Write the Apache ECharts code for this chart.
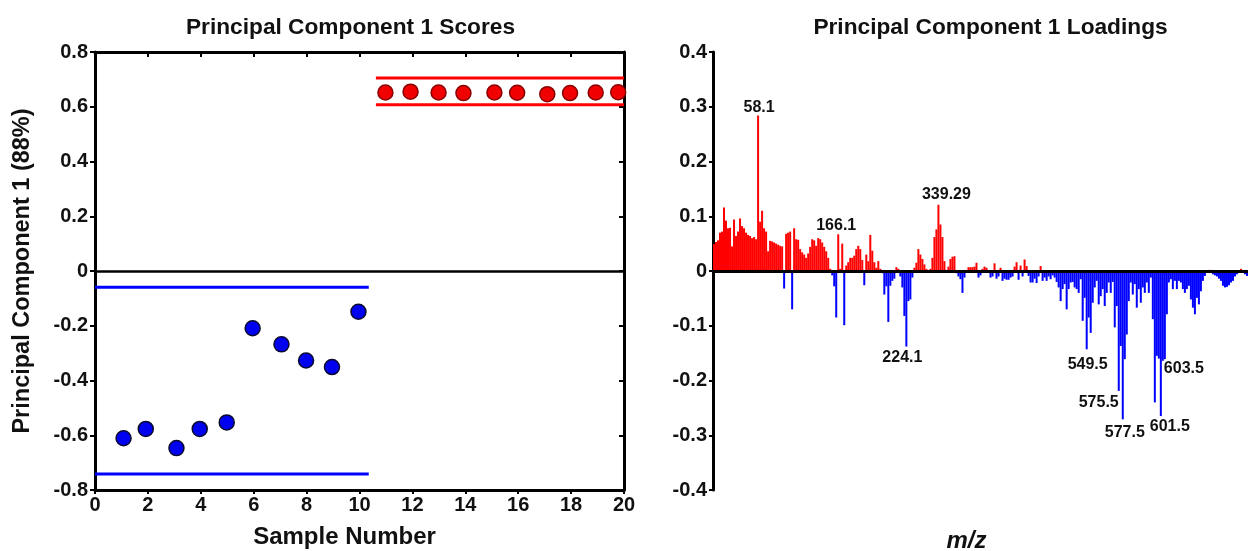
<!DOCTYPE html>
<html>
<head>
<meta charset="utf-8">
<script src="https://cdn.jsdelivr.net/npm/echarts/dist/echarts.min.js"></script>
<style>
  html, body { margin: 0; padding: 0; background: #fff; }
  #chart { width: 1248px; height: 551px; }
</style>
</head>
<body>
<div id="chart"></div>
<script>
// ---- PC1 scores: samples 1-10 (group A, blue) and 11-20 (group B, red)
const groupA_x = [1.08, 1.92, 3.08, 3.96, 4.98, 5.96, 7.05, 7.98, 8.96, 9.96];
const groupA_score = [-0.611, -0.577, -0.647, -0.577, -0.553, -0.209, -0.268, -0.327, -0.351, -0.149];
const groupB_x = [10.98, 11.93, 12.99, 13.93, 15.1, 15.96, 17.1, 17.96, 18.93, 19.78];
const groupB_score = [0.652, 0.655, 0.652, 0.650, 0.652, 0.651, 0.646, 0.650, 0.652, 0.653];

// limit lines for each group: [upper, lower] and their x extent
const groupA_limits = [-0.059, -0.742];
const groupA_span = [0, 10.35];
const groupB_limits = [0.705, 0.607];
const groupB_span = [10.62, 20];

// ---- PC1 loadings, one value per m/z variable, in variable order
const loadings = [
  0.049, 0.053, 0.056, 0.070, 0.072, 0.116, 0.092, 0.078, 0.079, 0.045,
  0.094, 0.064, 0.072, 0.096, 0.082, 0.078, 0.070, 0.066, 0.064, 0.060,
  0.062, 0.058, 0.284, 0.090, 0.110, 0.078, 0.072, 0.036, 0.055, 0.054,
  0.052, 0.050, 0.048, 0.046, 0.045, -0.032, 0.068, 0.070, 0.072, -0.070,
  0.078, 0.058, 0.057, 0.040, 0.034, 0.030, 0.024, 0.032, 0.044, 0.058,
  0.056, 0.046, 0.060, 0.058, 0.052, 0.044, 0.036, 0.024, 0.004, -0.008,
  -0.028, -0.085, 0.067, 0.004, 0.050, -0.099, 0.010, 0.016, 0.024, 0.024,
  0.028, 0.040, 0.046, 0.040, 0.020, -0.026, 0.030, 0.018, 0.066, 0.037,
  0.016, 0.006, 0.018, 0.004, -0.004, -0.043, -0.028, -0.093, -0.027, -0.018,
  -0.014, 0.007, 0.004, -0.010, -0.030, -0.082, -0.138, -0.055, -0.052, -0.012,
  0.006, 0.015, 0.040, 0.030, 0.022, 0.012, 0.004, -0.002, 0.004, 0.024,
  0.062, 0.076, 0.121, 0.085, 0.062, 0.018, 0.002, 0.008, 0.022, 0.026,
  0.027, -0.004, -0.010, -0.015, -0.040, -0.012, 0.002, 0.007, 0.007, 0.007,
  0.008, 0.015, -0.012, -0.008, 0.004, 0.008, 0.006, -0.003, -0.012, -0.010,
  0.014, -0.014, -0.010, 0.006, -0.018, -0.014, -0.016, -0.016, -0.012, -0.010,
  0.008, 0.016, -0.016, 0.010, -0.010, 0.021, 0.009, -0.009, -0.021, -0.021,
  -0.014, -0.022, -0.010, 0.009, -0.018, -0.012, -0.018, -0.010, -0.015, -0.008,
  -0.012, -0.020, -0.030, -0.055, -0.033, -0.024, -0.070, -0.033, -0.021, -0.020,
  -0.030, -0.033, -0.040, -0.015, -0.091, -0.049, -0.143, -0.085, -0.113, -0.058,
  -0.030, -0.018, -0.061, -0.046, -0.033, -0.064, -0.040, -0.021, -0.040, -0.020,
  -0.103, -0.064, -0.219, -0.137, -0.271, -0.161, -0.116, -0.055, -0.021, -0.043,
  -0.024, -0.067, -0.033, -0.058, -0.030, -0.040, -0.021, -0.040, -0.012, -0.088,
  -0.240, -0.155, -0.160, -0.265, -0.164, -0.161, -0.079, -0.021, -0.015, -0.033,
  -0.018, -0.033, -0.018, -0.021, -0.033, -0.040, -0.033, -0.027, -0.052, -0.067,
  -0.079, -0.049, -0.061, -0.037, -0.018, -0.009, -0.003, 0.002, 0.002, -0.006,
  -0.008, -0.010, -0.014, -0.018, -0.027, -0.030, -0.029, -0.026, -0.021, -0.018,
  -0.010, -0.006, -0.003, 0.004, -0.002, -0.006, -0.009
];

// annotated m/z peaks and the variable they belong to
const peakLabels = ['58.1', '166.1', '224.1', '339.29', '549.5', '575.5', '577.5', '601.5', '603.5'];
const peakIndex = [22, 62, 96, 112, 186, 202, 204, 223, 225];

// ---- drawing
const FONT = "'Liberation Sans', Arial, sans-serif";
const RED = '#ff0000';
const BLUE = '#0000ff';
const INK = '#111';

const labelPlacement = {
  '58.1':   { position: 'top', distance: 0, offset: [1, 0] },
  '166.1':  { position: 'top', distance: 1, offset: [-2, 0] },
  '224.1':  { position: 'bottom', distance: 3, offset: [-4, 0] },
  '339.29': { position: 'top', distance: 2, offset: [8, 0] },
  '549.5':  { position: 'bottom', distance: 7, offset: [1, 0] },
  '575.5':  { position: 'left', distance: 2, offset: [2, 12] },
  '577.5':  { position: 'bottom', distance: 5, offset: [2, 0] },
  '601.5':  { position: 'bottom', distance: 3, offset: [9, 0] },
  '603.5':  { position: 'right', distance: 2, offset: [-3, 9] }
};

const tickFont = { fontFamily: FONT, fontWeight: 'bold', fontSize: 20, color: INK };
const boxLine = { show: true, onZero: false, lineStyle: { color: '#000', width: 3 } };
const tickStyle = { width: 2, color: '#000' };

const chart = echarts.init(document.getElementById('chart'), null, { renderer: 'canvas' });

const categories = loadings.map((_, i) => String(i));

chart.setOption({
  animation: false,
  backgroundColor: '#fff',
  title: [
    { text: 'Principal Component 1 Scores', left: 345.5, top: 11, textAlign: 'center',
      textStyle: { fontFamily: FONT, fontWeight: 'bold', fontSize: 22.7, color: INK } },
    { text: 'Principal Component 1 Loadings', left: 985.5, top: 11, textAlign: 'center',
      textStyle: { fontFamily: FONT, fontWeight: 'bold', fontSize: 22.7, color: INK } }
  ],
  grid: [
    { left: 95, top: 52, width: 529, height: 438, outerBoundsMode: 'none', containLabel: false },
    { left: 713, top: 52, width: 535, height: 438, outerBoundsMode: 'none', containLabel: false }
  ],
  xAxis: [
    { gridIndex: 0, type: 'value', min: 0, max: 20, interval: 2, position: 'bottom',
      axisLine: boxLine, axisTick: { show: true, inside: false, length: 4, lineStyle: tickStyle },
      axisLabel: Object.assign({ margin: 5 }, tickFont), splitLine: { show: false },
      name: 'Sample Number', nameLocation: 'middle', nameGap: 35,
      nameTextStyle: { fontFamily: FONT, fontWeight: 'bold', fontSize: 24, color: INK,
        padding: [0, 30, 0, 0] } },
    { gridIndex: 0, type: 'value', min: 0, max: 20, interval: 2, position: 'top',
      axisLine: boxLine, axisTick: { show: true, inside: true, length: 5, lineStyle: tickStyle },
      axisLabel: { show: false }, splitLine: { show: false } },
    { gridIndex: 1, type: 'category', data: categories, position: 'bottom',
      axisLine: { show: false, onZero: false }, axisTick: { show: false }, axisLabel: { show: false },
      splitLine: { show: false },
      name: 'm/z', nameLocation: 'middle', nameGap: 39,
      nameTextStyle: { fontFamily: FONT, fontWeight: 'bold', fontStyle: 'italic', fontSize: 24, color: INK,
        padding: [0, 28, 0, 0] } }
  ],
  yAxis: [
    { gridIndex: 0, type: 'value', min: -0.8, max: 0.8, interval: 0.2, position: 'left',
      axisLine: boxLine, axisTick: { show: true, inside: false, length: 5, lineStyle: tickStyle },
      axisLabel: Object.assign({ margin: 7 }, tickFont), splitLine: { show: false },
      name: 'Principal Component 1 (88%)', nameLocation: 'middle', nameGap: 60, nameRotate: 90,
      nameTextStyle: { fontFamily: FONT, fontWeight: 'bold', fontSize: 23.5, color: INK } },
    { gridIndex: 0, type: 'value', min: -0.8, max: 0.8, interval: 0.2, position: 'right',
      axisLine: boxLine, axisTick: { show: true, inside: true, length: 5, lineStyle: tickStyle },
      axisLabel: { show: false }, splitLine: { show: false } },
    { gridIndex: 1, type: 'value', min: -0.4, max: 0.4, interval: 0.1, position: 'left',
      axisLine: boxLine,
      axisTick: { show: true, inside: false, length: 4, lineStyle: tickStyle },
      axisLabel: Object.assign({ margin: 6 }, tickFont), splitLine: { show: false } }
  ],
  series: [
    // zero line of the scores plot
    { type: 'line', xAxisIndex: 0, yAxisIndex: 0, data: [], silent: true,
      markLine: { symbol: ['none', 'none'], silent: true, label: { show: false },
        lineStyle: { color: '#000', width: 2.5, type: 'solid' }, data: [{ yAxis: 0 }] } },
    // group limit lines
    ...groupA_limits.map(v => ({
      type: 'line', xAxisIndex: 0, yAxisIndex: 0, symbol: 'none', silent: true,
      lineStyle: { color: BLUE, width: 3 }, data: [[groupA_span[0], v], [groupA_span[1], v]]
    })),
    ...groupB_limits.map(v => ({
      type: 'line', xAxisIndex: 0, yAxisIndex: 0, symbol: 'none', silent: true,
      lineStyle: { color: RED, width: 3 }, data: [[groupB_span[0], v], [groupB_span[1], v]]
    })),
    // scores
    { type: 'scatter', xAxisIndex: 0, yAxisIndex: 0, symbol: 'circle', symbolSize: 15, z: 5,
      itemStyle: { color: '#0000f0', opacity: 1, borderColor: '#0a0a30', borderWidth: 1.5 },
      data: groupA_x.map((x, i) => [x, groupA_score[i]]) },
    { type: 'scatter', xAxisIndex: 0, yAxisIndex: 0, symbol: 'circle', symbolSize: 15, z: 5,
      itemStyle: { color: '#f00000', opacity: 1, borderColor: '#8a0000', borderWidth: 1.5 },
      data: groupB_x.map((x, i) => [x, groupB_score[i]]) },
    // loadings
    { type: 'bar', xAxisIndex: 2, yAxisIndex: 2, barCategoryGap: '0%', silent: true,
      data: loadings,
      itemStyle: { color: p => (p.value >= 0 ? RED : BLUE) },
      markLine: { symbol: ['none', 'none'], silent: true, label: { show: false }, z: 10,
        lineStyle: { color: '#000', width: 3, type: 'solid' }, data: [{ yAxis: 0 }] } },
    // peak annotations
    { type: 'scatter', xAxisIndex: 2, yAxisIndex: 2, symbolSize: 0, silent: true, z: 12,
      itemStyle: { opacity: 1 },
      data: peakIndex.map((idx, k) => ({
        value: [idx, loadings[idx]],
        label: Object.assign({
          show: true, formatter: peakLabels[k],
          fontFamily: FONT, fontWeight: 'bold', fontSize: 16, color: INK, opacity: 1
        }, labelPlacement[peakLabels[k]])
      })) }
  ]
});
</script>
</body>
</html>
